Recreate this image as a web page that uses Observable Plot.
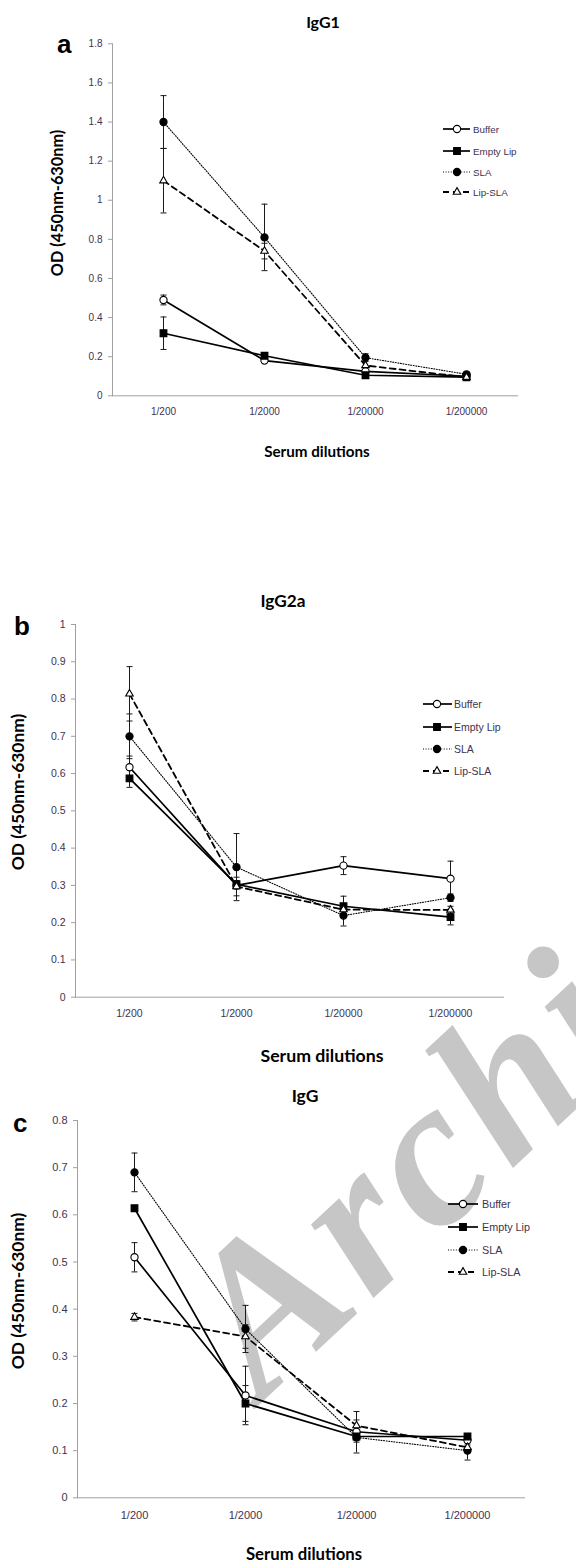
<!DOCTYPE html>
<html><head><meta charset="utf-8">
<script src="https://cdn.jsdelivr.net/npm/d3@7"></script>
<script src="https://cdn.jsdelivr.net/npm/@observablehq/plot@0.6"></script>
<style>
html,body{margin:0;padding:0;background:#fff;}
#page{position:relative;width:576px;height:1564px;overflow:hidden;background:#fff;}
.layer{position:absolute;left:0;}
svg{overflow:visible;}
</style></head><body><div id="page"></div>
<script>
// ---------- data ----------
const dilutions = ["1/200", "1/2000", "1/20000", "1/200000"];
const seriesNames = ["Buffer", "Empty Lip", "SLA", "Lip-SLA"];

// (a) IgG1
const igg1Buffer    = [0.49, 0.18, 0.125, 0.10];
const igg1BufferErr = [0.025, 0.01, 0.01, 0.008];
const igg1Empty     = [0.32, 0.205, 0.105, 0.095];
const igg1EmptyErr  = [0.083, 0.01, 0.01, 0.005];
const igg1SLA       = [1.40, 0.81, 0.195, 0.11];
const igg1SLAErr    = [0.135, 0.17, 0.02, 0.01];
const igg1LipSLA    = [1.10, 0.74, 0.155, 0.095];
const igg1LipSLAErr = [0.165, 0.04, 0.03, 0.005];
const igg1Ticks = [0, 0.2, 0.4, 0.6, 0.8, 1, 1.2, 1.4, 1.6, 1.8];

// (b) IgG2a
const igg2aBuffer    = [0.617, 0.30, 0.353, 0.318];
const igg2aBufferErr = [0.03, 0.01, 0.024, 0.047];
const igg2aEmpty     = [0.587, 0.303, 0.244, 0.215];
const igg2aEmptyErr  = [0.024, 0.01, 0.027, 0.021];
const igg2aSLA       = [0.70, 0.349, 0.219, 0.267];
const igg2aSLAErr    = [0.06, 0.09, 0.028, 0.01];
const igg2aLipSLA    = [0.814, 0.297, 0.235, 0.234];
const igg2aLipSLAErr = [0.073, 0.025, 0.01, 0.01];
const igg2aTicks = [0, 0.1, 0.2, 0.3, 0.4, 0.5, 0.6, 0.7, 0.8, 0.9, 1];

// (c) IgG
const iggBuffer    = [0.51, 0.217, 0.14, 0.122];
const iggBufferErr = [0.031, 0.062, 0.01, 0.01];
const iggEmpty     = [0.614, 0.20, 0.13, 0.13];
const iggEmptyErr  = [0.005, 0.038, 0.035, 0.005];
const iggSLA       = [0.69, 0.358, 0.128, 0.10];
const iggSLAErr    = [0.041, 0.05, 0.01, 0.02];
const iggLipSLA    = [0.383, 0.342, 0.153, 0.107];
const iggLipSLAErr = [0.008, 0.025, 0.03, 0.01];
const iggTicks = [0, 0.1, 0.2, 0.3, 0.4, 0.5, 0.6, 0.7, 0.8];

const panelTitles = ["IgG1", "IgG2a", "IgG"];
const panelLetters = ["a", "b", "c"];
const yLabel = "OD (450nm-630nm)";
const xLabel = "Serum dilutions";
const watermarkText = "Archive of SID";

// ---------- styling ----------
const seriesStyle = {
  "Buffer":    {dash: null,    sw: 1.7, symbol: "circle",   fill: "white", r: 3.6},
  "Empty Lip": {dash: null,    sw: 1.7, symbol: "square",   fill: "black", r: 3.8},
  "SLA":       {dash: "1,1.6", sw: 1.1, symbol: "circle",   fill: "black", r: 3.6},
  "Lip-SLA":   {dash: "6,4",   sw: 1.8, symbol: "triangle", fill: "white", r: 2.8}
};
const tickColor = "#3f3250";
const capSymbol = {draw(ctx, size) { const w = Math.sqrt(size / Math.PI); ctx.moveTo(-w, 0); ctx.lineTo(w, 0); }};

function buildRows(vals, errs) {
  const rows = [];
  seriesNames.forEach((s, si) => dilutions.forEach((d, di) => rows.push({series: s, dilution: d, value: vals[si][di], err: errs[si][di]})));
  return rows;
}

const panels = [
  {top: 0, height: 430, mt: 43.3, mb: 34.7, ml: 112, mr: 59, domain: [0, 1.8], ticks: igg1Ticks, fs: 10, pad: 12,
   rows: buildRows([igg1Buffer, igg1Empty, igg1SLA, igg1LipSLA], [igg1BufferErr, igg1EmptyErr, igg1SLAErr, igg1LipSLAErr])},
  {top: 560, height: 480, mt: 64, mb: 43.3, ml: 75, mr: 73, domain: [0, 1], ticks: igg2aTicks, fs: 10.5, pad: 12,
   rows: buildRows([igg2aBuffer, igg2aEmpty, igg2aSLA, igg2aLipSLA], [igg2aBufferErr, igg2aEmptyErr, igg2aSLAErr, igg2aLipSLAErr])},
  {top: 1060, height: 504, mt: 60, mb: 66.7, ml: 77, mr: 52, domain: [0, 0.8], ticks: iggTicks, fs: 11, pad: 13,
   rows: buildRows([iggBuffer, iggEmpty, iggSLA, iggLipSLA], [iggBufferErr, iggEmptyErr, iggSLAErr, iggLipSLAErr])}
];

const page = document.getElementById("page");
const ns = "http://www.w3.org/2000/svg";

// watermark layer (beneath)
const wm = document.createElementNS(ns, "svg");
wm.setAttribute("width", 576); wm.setAttribute("height", 1564);
wm.setAttribute("class", "layer"); wm.style.top = "0px";
wm.innerHTML = `<text x="262" y="1402" transform="rotate(-43 262 1402)" font-family="Liberation Serif" font-weight="bold" font-style="italic" font-size="210" letter-spacing="8" fill="#c6c6c6">${watermarkText}</text>`;
page.appendChild(wm);

const fmt = d => String(+d.toFixed(2));

panels.forEach(p => {
  const marks = [
    Plot.frame({anchor: "left", stroke: "#a0a0a0"}),
    Plot.frame({anchor: "bottom", stroke: "#a0a0a0"}),
    Plot.axisY({ticks: p.ticks, tickFormat: fmt, tickSize: 4, tickPadding: 6, stroke: "#a0a0a0", fill: tickColor, fontSize: p.fs, label: null}),
    Plot.axisX({tickSize: 0, tickPadding: p.pad, fill: tickColor, fontSize: p.fs, label: null}),
    Plot.ruleX(p.rows, {x: "dilution", y1: d => d.value - d.err, y2: d => d.value + d.err, stroke: "#1a1a1a", strokeWidth: 1}),
    Plot.dot(p.rows, {x: "dilution", y: d => d.value - d.err, symbol: capSymbol, r: 3, stroke: "#1a1a1a", strokeWidth: 1, fill: "none"}),
    Plot.dot(p.rows, {x: "dilution", y: d => d.value + d.err, symbol: capSymbol, r: 3, stroke: "#1a1a1a", strokeWidth: 1, fill: "none"})
  ];
  seriesNames.forEach(s => {
    const st = seriesStyle[s];
    const data = p.rows.filter(d => d.series === s);
    marks.push(Plot.line(data, {x: "dilution", y: "value", stroke: "black", strokeWidth: st.sw, strokeDasharray: st.dash}));
  });
  seriesNames.forEach(s => {
    const st = seriesStyle[s];
    const data = p.rows.filter(d => d.series === s);
    marks.push(Plot.dot(data, {x: "dilution", y: "value", symbol: st.symbol, r: st.r, fill: st.fill, stroke: "black", strokeWidth: 1.1}));
  });
  const chart = Plot.plot({
    width: 576, height: p.height,
    marginTop: p.mt, marginBottom: p.mb, marginLeft: p.ml, marginRight: p.mr,
    x: {type: "point", domain: dilutions, padding: 0.5},
    y: {domain: p.domain},
    style: {fontFamily: "'Liberation Sans', Arial, sans-serif", background: "transparent", overflow: "visible"},
    marks
  });
  chart.classList.add("layer");
  chart.style.top = p.top + "px";
  page.appendChild(chart);
});

// text / legend overlay
const ov = document.createElementNS(ns, "svg");
ov.setAttribute("width", 576); ov.setAttribute("height", 1564);
ov.setAttribute("class", "layer"); ov.style.top = "0px";
const boldFont = "Lato, 'Liberation Sans', sans-serif";
const texts = [
  // letters
  {t: panelLetters[0], x: 57, y: 53, fs: 26, ff: "'Liberation Sans'", fw: "bold", a: "start"},
  {t: panelLetters[1], x: 14, y: 635, fs: 26, ff: "'Liberation Sans'", fw: "bold", a: "start"},
  {t: panelLetters[2], x: 13, y: 1132, fs: 26, ff: "'Liberation Sans'", fw: "bold", a: "start"},
  // titles
  {t: panelTitles[0], x: 323, y: 28, fs: 16, ff: boldFont, fw: "bold", a: "middle"},
  {t: panelTitles[1], x: 283, y: 607, fs: 17.2, ff: boldFont, fw: "bold", a: "middle"},
  {t: panelTitles[2], x: 305, y: 1102, fs: 17.5, ff: boldFont, fw: "bold", a: "middle"},
  // x labels
  {t: xLabel, x: 317, y: 456.5, fs: 15.2, ff: boldFont, fw: "bold", a: "middle"},
  {t: xLabel, x: 322, y: 1061.5, fs: 17.7, ff: boldFont, fw: "bold", a: "middle"},
  {t: xLabel, x: 304, y: 1560, fs: 16.7, ff: boldFont, fw: "bold", a: "middle"},
];
let html = "";
texts.forEach(o => {
  html += `<text x="${o.x}" y="${o.y}" font-family="${o.ff}" font-weight="${o.fw}" font-size="${o.fs}" text-anchor="${o.a}" fill="black">${o.t}</text>`;
});
// y labels
[[63, 203, 16.3], [24, 792, 17.4], [24, 1291, 17.4]].forEach(([x, y, fs]) => {
  html += `<text transform="translate(${x},${y}) rotate(-90)" font-family="${boldFont}" font-weight="bold" font-size="${fs}" text-anchor="middle" fill="black">${yLabel}</text>`;
});
// legends
const legends = [
  {x0: 443, x1: 470, xm: 457, xt: 473, ys: [129, 151, 172, 192], fs: 9.8},
  {x0: 423, x1: 452, xm: 437, xt: 454, ys: [704, 727, 749, 771], fs: 10.5},
  {x0: 448, x1: 478, xm: 463, xt: 482, ys: [1204, 1227, 1250, 1272], fs: 10.8}
];
const symbolMap = {circle: d3.symbolCircle, square: d3.symbolSquare, triangle: d3.symbolTriangle};
legends.forEach(L => {
  seriesNames.forEach((s, i) => {
    const st = seriesStyle[s], y = L.ys[i];
    html += `<line x1="${L.x0}" x2="${L.x1}" y1="${y}" y2="${y}" stroke="black" stroke-width="${st.sw}" ${st.dash ? `stroke-dasharray="${st.dash}"` : ""}/>`;
    const path = d3.symbol(symbolMap[st.symbol], Math.PI * st.r * st.r)();
    html += `<path transform="translate(${L.xm},${y})" d="${path}" fill="${st.fill}" stroke="black" stroke-width="1.1"/>`;
    html += `<text x="${L.xt}" y="${y + 3.5}" font-family="'Liberation Sans'" font-size="${L.fs}" fill="${tickColor}">${s}</text>`;
  });
});
ov.innerHTML = html;
page.appendChild(ov);
</script>
</body></html>
